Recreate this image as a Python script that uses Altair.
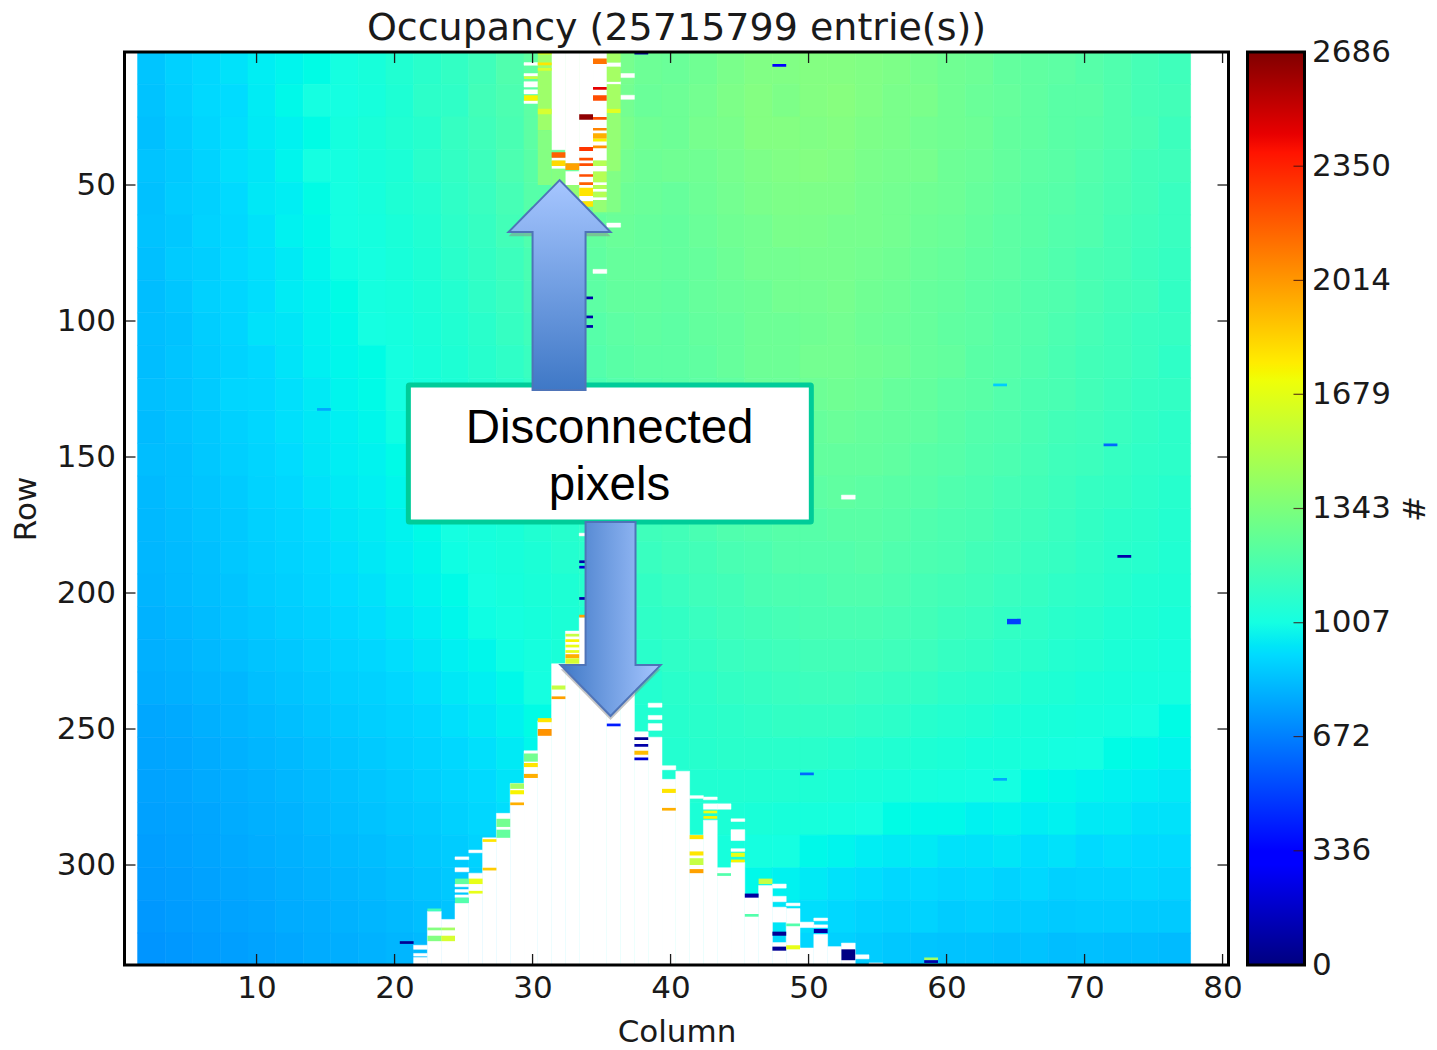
import altair as alt
import pandas as pd

alt.data_transformers.disable_max_rows()

TITLE = "Occupancy (25715799 entrie(s))"
X_TICKS = [10, 20, 30, 40, 50, 60, 70, 80]
Y_TICKS = [50, 100, 150, 200, 250, 300]
CB_TICKS = [0, 336, 672, 1007, 1343, 1679, 2014, 2350, 2686]

# occupancy: 28 bands of 12 rows, 38 blocks of 2 columns
GRID = [
[820,870,900,930,960,980,1000,1020,1050,1090,1120,1150,1190,1240,1290,1330,1370,1360,1330,1320,1340,1370,1390,1390,1400,1400,1390,1380,1360,1340,1330,1300,1290,1280,1260,1240,1210,1190],
[810,860,905,915,955,990,1010,1015,1040,1080,1130,1140,1200,1230,1280,1340,1380,1350,1320,1330,1350,1380,1400,1380,1400,1410,1390,1370,1370,1340,1320,1310,1290,1270,1270,1240,1210,1200],
[800,850,890,920,950,970,1000,1030,1060,1090,1110,1160,1190,1220,1280,1330,1370,1370,1340,1330,1360,1370,1400,1400,1390,1400,1380,1370,1350,1340,1330,1300,1290,1270,1260,1240,1220,1180],
[815,840,880,925,940,980,1010,1020,1050,1070,1120,1150,1180,1230,1270,1320,1360,1350,1330,1340,1340,1360,1380,1390,1400,1390,1370,1360,1360,1330,1320,1300,1280,1270,1250,1230,1200,1190],
[805,850,870,910,945,960,1000,1015,1040,1080,1100,1140,1170,1210,1260,1290,1320,1330,1320,1310,1330,1350,1370,1380,1380,1380,1360,1350,1340,1330,1310,1290,1270,1260,1240,1220,1200,1170],
[810,830,880,900,930,970,990,1010,1030,1060,1090,1130,1160,1200,1240,1270,1300,1320,1310,1300,1320,1340,1350,1370,1370,1360,1360,1350,1330,1320,1300,1280,1270,1250,1240,1210,1190,1170],
[800,845,860,905,925,950,985,1005,1020,1050,1080,1120,1150,1180,1220,1260,1290,1310,1310,1300,1310,1330,1350,1350,1360,1360,1350,1340,1320,1310,1290,1280,1260,1240,1220,1210,1180,1160],
[790,825,870,890,920,955,975,1000,1025,1040,1070,1100,1140,1170,1210,1240,1280,1300,1300,1290,1310,1320,1330,1350,1350,1360,1340,1330,1310,1300,1280,1270,1250,1240,1220,1200,1190,1150],
[795,810,855,885,930,940,970,990,1010,1030,1060,1090,1120,1160,1190,1230,1260,1280,1290,1280,1300,1310,1330,1330,1340,1350,1330,1320,1310,1290,1280,1260,1250,1230,1210,1190,1170,1160],
[790,820,850,880,905,935,965,985,1000,1020,1050,1080,1110,1140,1170,1210,1250,1270,1280,1280,1290,1310,1330,1330,1350,1350,1340,1330,1310,1300,1270,1260,1240,1220,1200,1190,1170,1140],
[800,815,845,890,900,925,950,980,995,1010,1040,1070,1100,1120,1150,1190,1230,1250,1260,1270,1280,1290,1320,1320,1330,1340,1330,1310,1300,1280,1270,1250,1230,1220,1200,1180,1160,1150],
[785,810,835,870,895,925,945,965,985,1005,1030,1050,1080,1110,1140,1170,1200,1230,1240,1250,1270,1280,1300,1310,1310,1320,1310,1300,1290,1270,1250,1240,1220,1200,1190,1170,1150,1130],
[790,800,830,860,885,915,940,960,975,995,1020,1040,1070,1090,1120,1150,1180,1200,1220,1240,1250,1270,1280,1290,1300,1300,1300,1290,1270,1260,1240,1230,1210,1190,1180,1160,1140,1130],
[775,800,820,845,880,900,930,950,965,985,1005,1030,1050,1080,1100,1130,1160,1190,1200,1220,1240,1250,1270,1270,1280,1290,1280,1270,1260,1240,1230,1210,1200,1180,1160,1150,1130,1110],
[770,790,815,835,870,890,915,940,955,975,995,1015,1040,1060,1090,1110,1140,1170,1190,1200,1220,1240,1250,1260,1260,1270,1270,1260,1240,1230,1220,1200,1190,1170,1150,1130,1120,1100],
[765,780,800,830,855,880,900,925,945,965,985,1005,1030,1050,1070,1100,1120,1150,1170,1190,1200,1220,1230,1250,1250,1250,1260,1240,1230,1220,1200,1190,1170,1160,1140,1120,1110,1090],
[755,775,795,815,850,865,890,915,930,955,975,995,1015,1040,1060,1080,1110,1130,1150,1170,1190,1200,1220,1230,1230,1240,1240,1230,1210,1200,1190,1170,1160,1140,1130,1110,1090,1080],
[745,765,785,810,830,855,875,900,920,940,960,985,1005,1025,1045,1070,1090,1120,1140,1150,1170,1190,1200,1210,1220,1220,1220,1210,1200,1180,1170,1150,1140,1120,1110,1090,1080,1060],
[735,750,770,790,815,830,855,880,895,920,940,965,985,1005,1030,1060,1080,1100,1120,1140,1150,1170,1180,1190,1200,1200,1200,1190,1180,1160,1150,1130,1120,1100,1090,1070,1060,1040],
[725,735,755,765,795,815,835,860,875,895,920,945,965,990,1020,1040,1060,1080,1100,1120,1130,1150,1160,1170,1180,1180,1170,1160,1150,1130,1120,1110,1090,1080,1060,1050,1040,1030],
[705,715,735,755,775,795,820,840,860,880,895,925,945,970,1000,1030,1050,1070,1090,1110,1120,1130,1140,1150,1150,1150,1140,1130,1110,1100,1090,1070,1060,1050,1040,1030,1010,1000],
[695,705,720,740,760,775,800,820,840,860,880,900,925,950,985,1010,1040,1060,1080,1100,1110,1120,1120,1120,1120,1110,1100,1090,1080,1070,1050,1050,1040,1020,1010,1000,990,980],
[690,695,715,730,745,765,785,805,825,845,865,885,910,935,970,1000,1020,1040,1060,1080,1090,1090,1090,1090,1080,1070,1060,1050,1040,1030,1020,1010,1000,990,980,970,960,950],
[680,690,700,720,735,750,770,790,810,830,845,870,895,920,955,985,1010,1030,1050,1070,1070,1070,1060,1050,1040,1030,1010,1000,990,990,970,980,960,970,950,950,930,930],
[670,680,695,710,725,740,755,775,790,810,830,850,880,905,945,975,1000,1020,1040,1050,1040,1040,1020,1010,990,980,960,950,950,930,930,940,920,930,910,920,910,910],
[665,670,685,700,710,730,745,760,775,795,815,835,860,885,935,960,990,1010,1030,1030,1020,1010,990,970,950,930,920,900,910,890,900,880,900,870,880,880,890,880],
[650,665,675,690,700,720,730,745,760,775,795,815,840,865,915,950,980,1000,1010,1010,1000,980,960,940,920,900,880,870,880,850,860,850,850,840,850,850,840,840],
[640,650,665,675,690,705,720,730,745,760,775,795,820,845,895,930,970,990,1000,1000,990,960,930,910,890,870,850,830,820,810,810,800,810,790,800,790,790,780],
]

# columns / rows where no pixel responds (column index, first row, last row)
GAPS = [
(28,5,6),(28,9,10),(28,12,14),(28,15,16.5),(28,19,20),
(30,1,37),(30,40,41),(30,43,44),(31,1,42),(31,45,50),(32,1,56),
(33,1,41),(33,43,45),(33,49,50),(33,51.5,52.5),(33,54.5,55.5),(33,81,82.5),
(34,5,6.5),(34,12,13),(34,64,65.5),(35,9,10.5),(35,17,18.5),(51,164,165.5),
(32,178,179),(32,209,337),(31,214,337),(30,226,337),(29,247,337),(28,258,337),
(27,270,337),(26,281,337),(25,290,337),(24,294.5,295.5),(24,303,337),
(23,297,298),(23,301,302.5),(23,307,308),(23,309,310),(23,311,312),(23,314,337),
(22,320,337),(21,317,337),(20,329.5,331),(20,332.5,333.5),(20,334,337),
(33,205,337),(34,200,337),(35,215,337),(36,251,337),
(37,240.5,242),(37,245,246.5),(37,248,250.5),(37,253,337),
(38,263.5,265),(38,268.5,337),(39,265.5,337),(40,274.5,275.5),(40,289,337),
(41,275,276),(41,277.5,279.5),(41,283.5,337),(42,277.5,279.5),(42,301,337),
(43,283,284),(43,287,291),(43,294,295),(43,299,337),(44,311.5,337),(45,307.5,337),
(46,307,308.5),(46,311.5,313.5),(46,315.5,321),(46,328.5,337),
(47,314,315),(47,316,337),(48,321,323),(48,330.5,337),
(49,319.5,320.5),(49,322,323),(49,325.5,337),(50,330,337),(51,328.7,337),
(52,333,334.5),(53,336,337),
]

# single hot / dead rows: column index, first row, last row, occupancy
STRIPS = [
(29,1,30,1480),(29,30,50,1400),(29,1,2,1700),(29,5,6,1800),(29,7,8,1650),(29,22,24,1650),
(28,17,19,1750),(28,10,11,1600),
(30,38,40,2250),(30,41,43,1850),(30,44,52,1400),(31,42,44.5,2050),(31,50,56,1450),
(32,24,26,2650),(32,36,37.5,2350),(32,40,41,2300),(32,42,43,2300),(32,46,47,2300),(32,49,50,2250),(32,51,54,1800),(32,56,58,1800),
(33,3.5,5.5,2200),(33,14,15,2450),(33,17,19,2300),(33,25,26,2300),(33,29,30,2150),(33,31,33,2000),(33,33,34,1750),(33,35.5,36.5,2100),
(33,41,43,1550),(33,45,49,1550),(33,50,51.5,1550),(33,52.5,54.5,1550),(33,55.5,60,1450),
(34,1,5,1500),(34,6.5,12,1500),(34,13,22,1500),(34,22,23.5,1680),(34,23.5,45,1450),(34,45,60,1390),
(36,1,2,100),(32,91,92,100),(32,98,99,100),(32,101.5,102.5,100),
(46,5.5,6.5,300),(13,132,133,700),(62,123,124,850),(70,145,146,500),
(71,186,187,100),(63,209.5,211.5,400),(48,266,267,500),(62,268,269,700),(34,248,249,350),
(19,328,329,50),(57,334,335,1500),(57,335,336,100),
(32,188,189,100),(32,190,191,200),(32,201.5,202.5,100),(32,208,209,2050),
(31,215,216,1600),(31,217,218,1750),(31,219,220,1700),(31,221,222,1700),(31,222.5,224,2000),(31,224,226,1650),
(30,234,235.5,1600),(30,238,239,2050),(29,246,247.5,1800),(29,250,252.5,2100),
(28,259,262,1350),(28,262.5,264,1800),(28,266.5,268,2000),
(27,270,272,1500),(27,272.5,274,1750),(27,277,278,2000),
(26,283,286,1350),(26,287,290,1300),(25,290.5,291.5,1800),(25,301,302,1900),
(24,305,307,1700),(24,309.5,310.5,1700),(23,305,307,1300),(23,312,314,1250),
(22,323,324,1500),(22,326,328,1650),(21,316,317,1200),(21,323,324,1400),(21,326,328,1400),
(36,253,254,50),(36,255.5,256.5,100),(36,258,259.5,1950),(36,260.5,261.5,200),
(38,272,273.5,1800),(38,279,280,2000),
(40,289,290.5,1800),(40,295,296.5,1800),(40,297.5,300,1600),(40,301.5,303,2050),
(41,280,281,1700),(41,282,283,1750),(42,303,304,1250),
(43,295.5,297,1700),(43,298,299,1750),(44,310.5,312,80),(44,318,319,1250),(45,305,307,1600),
(46,324.5,326,50),(46,330,331.5,50),(47,321.5,322.5,1250),(47,329.5,331,1700),
(49,323.5,325,100),(51,331,335,10),
]

ANN_BOX = {"x": 21.0, "x2": 50.2, "y": 123.5, "y2": 173.9}
ANN_TEXT = ["Disconnected", "pixels"]
ANN_TEXT_X = [35.58, 35.58]
ANN_TEXT_Y = [139.6, 160.7]
UP_X = [28.26, 30, 30.001, 31.96, 33.84, 33.841, 35.65]
UP_Y = [67.3, 58.3, 58.3, 48.2, 57.9, 57.9, 67.3]
UP_Y2 = [67.3, 67.3, 125.4, 125.4, 125.4, 67.3, 67.3]
DN_X = [32.03, 33.84, 33.841, 35.65, 37.46, 37.461, 39.28]
DN_Y = [226.5, 226.5, 173.9, 173.9, 173.9, 226.5, 226.5]
DN_Y2 = [226.5, 235.8, 235.8, 245.2, 235.8, 235.8, 226.5]

W, H = 1104, 913
X_DOM = [0.43, 80.43]
Y_DOM = [336.76, 1.1]
X0 = 1.38
XEND = 77.68
BAND = 12
TICK = 11
DARK = "#1a1a1a"
FONT = "DejaVu Sans"

stops = [0, .11, .125, .34, .35, .375, .64, .65, .66, .89, .91, 1]
hexes = ["#000080", "#0000FF", "#0000FF", "#00DBFF", "#00E6F7", "#15FFE2",
         "#EFFF08", "#F7F600", "#FFEC00", "#FF1300", "#E80000", "#800000"]
VMAX = 2686
jet = alt.Scale(domain=[s * VMAX for s in stops], range=hexes, clamp=True)

xs = alt.Scale(domain=X_DOM, nice=False, zero=False)
ys = alt.Scale(domain=Y_DOM, nice=False, zero=False)

grid_df = pd.DataFrame([
    {"x0": X0 + 2 * i, "x1": XEND if i == len(r) - 1 else X0 + 2 * i + 2,
     "y0": 1 + BAND * j, "y1": 1 + BAND * (j + 1), "v": v}
    for j, r in enumerate(GRID) for i, v in enumerate(r)])
gap_df = pd.DataFrame([{"x0": X0 + k, "x1": X0 + k + 1, "y0": a, "y1": b} for k, a, b in GAPS])
strip_df = pd.DataFrame([{"x0": X0 + k, "x1": X0 + k + 1, "y0": a, "y1": b, "v": v} for k, a, b, v in STRIPS])

axx = alt.Axis(values=X_TICKS, title="Column", grid=False, domain=False, tickSize=0,
              labelPadding=8, labelFontSize=31, labelFont=FONT, labelColor=DARK, format="d",
              titleFont=FONT, titleFontSize=31, titleFontWeight="normal", titleColor=DARK,
              titlePadding=14.5, labelOverlap=False)
axy = alt.Axis(values=Y_TICKS, title="Row", grid=False, domain=False, tickSize=0,
              labelPadding=9, labelFontSize=31, labelFont=FONT, labelColor=DARK, format="d",
              titleFont=FONT, titleFontSize=31, titleFontWeight="normal", titleColor=DARK,
              titlePadding=14, labelOverlap=False)
X = lambda f: alt.X(f, scale=xs, axis=axx)
Y = lambda f: alt.Y(f, scale=ys, axis=axy)

heat = alt.Chart(grid_df).mark_rect(strokeWidth=0.6, clip=True).encode(
    x=X("x0:Q"), x2="x1:Q", y=Y("y0:Q"), y2="y1:Q",
    color=alt.Color("v:Q", scale=jet, legend=None),
    stroke=alt.Stroke("v:Q", scale=jet, legend=None))
gaps = alt.Chart(gap_df).mark_rect(fill="white", stroke="white", strokeWidth=0.5, clip=True).encode(
    x=X("x0:Q"), x2="x1:Q", y=Y("y0:Q"), y2="y1:Q")
strips = alt.Chart(strip_df).mark_rect(clip=True).encode(
    x=X("x0:Q"), x2="x1:Q", y=Y("y0:Q"), y2="y1:Q",
    color=alt.Color("v:Q", scale=jet, legend=None))


def ticks_x(px0, px1):
    return alt.Chart(pd.DataFrame({"t": X_TICKS})).mark_rule(color=DARK, strokeWidth=1.3).encode(
        x=X("t:Q"), y=alt.value(px0), y2=alt.value(px1))


def ticks_y(px0, px1):
    return alt.Chart(pd.DataFrame({"t": Y_TICKS})).mark_rule(color=DARK, strokeWidth=1.3).encode(
        y=Y("t:Q"), x=alt.value(px0), x2=alt.value(px1))


frame = alt.Chart(pd.DataFrame({"a": [0]})).mark_rect(fillOpacity=0, stroke="black", strokeWidth=3).encode(
    x=alt.value(0), x2=alt.value(W), y=alt.value(0), y2=alt.value(H))


def arrow(xv, yv, y2v, mark_kw, dy=0.0):
    df = pd.DataFrame({"x": xv, "y": [v + dy for v in yv], "y2": [v + dy for v in y2v]})
    return alt.Chart(df).mark_area(**mark_kw).encode(x=X("x:Q"), y=Y("y:Q"), y2="y2:Q")


up_fill = alt.Gradient(gradient="linear", x1=0, x2=0, y1=0, y2=1,
                       stops=[alt.GradientStop(color="#A6C6FF", offset=0),
                              alt.GradientStop(color="#3F78C6", offset=1)])
dn_fill = alt.Gradient(gradient="linear", x1=0, x2=1, y1=0, y2=0,
                       stops=[alt.GradientStop(color="#3F78C6", offset=0),
                              alt.GradientStop(color="#A6C6FF", offset=1)])
shadow = {"color": "#8c8c8c", "opacity": 0.5}
arrow_line = {"stroke": "#4F74B8", "strokeWidth": 2}

box = alt.Chart(pd.DataFrame([ANN_BOX])).mark_rect(
    fill="white", stroke="#00CC99", strokeWidth=5, cornerRadius=1).encode(
    x=X("x:Q"), x2="x2:Q", y=Y("y:Q"), y2="y2:Q")
label = alt.Chart(pd.DataFrame({"t": ANN_TEXT, "x": ANN_TEXT_X, "y": ANN_TEXT_Y})).mark_text(
    font="Liberation Sans", fontSize=47.5, color="black", baseline="middle", align="center").encode(
    x=X("x:Q"), y=Y("y:Q"), text="t:N")

main = alt.layer(
    heat, gaps, strips,
    ticks_x(H, H - TICK), ticks_x(0, TICK), ticks_y(0, TICK), ticks_y(W, W - TICK),
    arrow(UP_X, UP_Y, UP_Y2, shadow, dy=1.5), arrow(DN_X, DN_Y, DN_Y2, shadow, dy=1.5),
    box, label,
    arrow(UP_X, UP_Y, UP_Y2, {"fill": up_fill, **arrow_line}),
    arrow(DN_X, DN_Y, DN_Y2, {"fill": dn_fill, **arrow_line}),
    frame,
).properties(
    width=W, height=H,
    title=alt.TitleParams(TITLE, font=FONT, fontSize=38, fontWeight="normal", color=DARK,
                          anchor="middle", offset=3),
)

CBW = 57
cb_fill = alt.Gradient(gradient="linear", x1=0, x2=0, y1=1, y2=0,
                       stops=[alt.GradientStop(color=c, offset=s) for s, c in zip(stops, hexes)])
cs = alt.Scale(domain=[0, VMAX], nice=False, zero=False)
axc = alt.Axis(values=CB_TICKS, orient="right", title="#", grid=False, domain=False, tickSize=0,
               labelPadding=7, labelFontSize=31, labelFont=FONT, labelColor=DARK, format="d",
               labelOverlap=False, labelBound=False, labelFlush=False,
               titleFont=FONT, titleFontSize=31, titleFontWeight="normal", titleColor=DARK,
               titlePadding=5)
cb_bar = alt.Chart(pd.DataFrame({"lo": [0], "hi": [VMAX]})).mark_rect(fill=cb_fill).encode(
    x=alt.value(0), x2=alt.value(CBW), y=alt.Y("lo:Q", scale=cs, axis=axc), y2="hi:Q")
cb_ticks = alt.Chart(pd.DataFrame({"t": CB_TICKS[1:-1]})).mark_rule(color="#401010", strokeWidth=1.2, opacity=0.8).encode(
    y=alt.Y("t:Q", scale=cs, axis=axc), x=alt.value(CBW), x2=alt.value(CBW - TICK))
cb_frame = alt.Chart(pd.DataFrame({"a": [0]})).mark_rect(fillOpacity=0, stroke="black", strokeWidth=3).encode(
    x=alt.value(0), x2=alt.value(CBW), y=alt.value(0), y2=alt.value(H))
cbar = alt.layer(cb_bar, cb_ticks, cb_frame).properties(width=CBW, height=H)

chart = alt.hconcat(main, cbar, spacing=2).resolve_scale(
    color="independent", stroke="independent"
).configure_view(stroke=None).configure(background="white").properties(
    padding={"left": 1.5, "top": 1, "right": 0, "bottom": -4}
)

chart.save("out.html", embed_options={"renderer": "svg", "actions": False})
